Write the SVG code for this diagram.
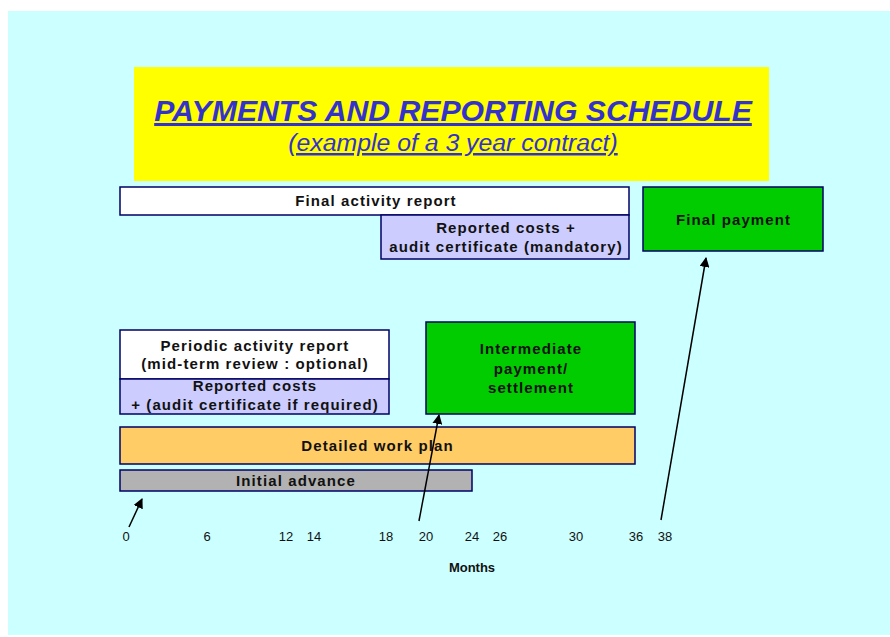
<svg xmlns="http://www.w3.org/2000/svg" width="890" height="637" viewBox="0 0 890 637">
<defs>
<marker id="ah" markerWidth="10" markerHeight="10" refX="9" refY="5" orient="auto" markerUnits="userSpaceOnUse">
<path d="M0,0 L10,5 L0,10 z" fill="#000"/>
</marker>
<style>
.box{stroke:#000066;stroke-width:1.5}
.lbl{font-family:"Liberation Sans",Arial,sans-serif;font-weight:bold;font-size:15px;letter-spacing:1.1px;fill:#111;text-anchor:middle}
.ax{font-family:"Liberation Sans",Arial,sans-serif;font-size:13px;fill:#111;text-anchor:middle}
.conn{stroke:#000;stroke-width:1.5;fill:none}
</style>
</defs>
<rect x="0" y="0" width="890" height="637" fill="#ffffff"/>
<rect x="8" y="11" width="882" height="624" fill="#CCFFFF"/>
<g id="title">
<rect x="134" y="67" width="635" height="114" fill="#FFFF00"/>
<text x="453" y="121" font-family="'Liberation Sans',Arial,sans-serif" font-weight="bold" font-style="italic" font-size="30.2" fill="#3333CC" text-anchor="middle" text-decoration="underline">PAYMENTS AND REPORTING SCHEDULE</text>
<text x="453" y="151" font-family="'Liberation Sans',Arial,sans-serif" font-style="italic" font-size="24.8" fill="#3333CC" text-anchor="middle" text-decoration="underline">(example of a 3 year contract)</text>
</g>
<g id="final-activity-report">
<rect class="box" x="120" y="187" width="509" height="28" fill="#ffffff"/>
<text class="lbl" x="376" y="206">Final activity report</text>
</g>
<g id="reported-costs-mandatory">
<rect class="box" x="381" y="215" width="248" height="44" fill="#CCCCFF"/>
<text class="lbl" x="506" y="233">Reported costs +</text>
<text class="lbl" x="506" y="252">audit certificate (mandatory)</text>
</g>
<g id="final-payment">
<rect class="box" x="643" y="187" width="180" height="64" fill="#00CC00"/>
<text class="lbl" x="733.5" y="225">Final payment</text>
</g>
<g id="periodic-activity-report">
<rect class="box" x="120" y="330" width="269" height="49" fill="#ffffff"/>
<text class="lbl" x="255" y="351">Periodic activity report</text>
<text class="lbl" x="255" y="369">(mid-term review : optional)</text>
</g>
<g id="reported-costs-optional">
<rect class="box" x="120" y="379" width="269" height="35" fill="#CCCCFF"/>
<text class="lbl" x="255" y="391">Reported costs</text>
<text class="lbl" x="255" y="410">+ (audit certificate if required)</text>
</g>
<g id="intermediate-payment">
<rect class="box" x="426" y="322" width="209" height="92" fill="#00CC00"/>
<text class="lbl" x="531" y="354">Intermediate</text>
<text class="lbl" x="531" y="374">payment/</text>
<text class="lbl" x="531" y="393">settlement</text>
</g>
<g id="detailed-work-plan">
<rect class="box" x="120" y="427" width="515" height="37" fill="#FFCC66"/>
<text class="lbl" x="377.5" y="451">Detailed work plan</text>
</g>
<g id="initial-advance">
<rect class="box" x="120" y="470" width="352" height="21" fill="#B2B2B2"/>
<text class="lbl" x="296" y="486">Initial advance</text>
</g>
<g id="connectors">
<line class="conn" x1="129" y1="527" x2="142" y2="499" marker-end="url(#ah)"/>
<line class="conn" x1="419" y1="521" x2="439" y2="415" marker-end="url(#ah)"/>
<line class="conn" x1="661" y1="520" x2="706" y2="258" marker-end="url(#ah)"/>
</g>
<g id="axis">
<text class="ax" x="126" y="541">0</text>
<text class="ax" x="207" y="541">6</text>
<text class="ax" x="286" y="541">12</text>
<text class="ax" x="314" y="541">14</text>
<text class="ax" x="386" y="541">18</text>
<text class="ax" x="426" y="541">20</text>
<text class="ax" x="472" y="541">24</text>
<text class="ax" x="500" y="541">26</text>
<text class="ax" x="576" y="541">30</text>
<text class="ax" x="636" y="541">36</text>
<text class="ax" x="665" y="541">38</text>
<text class="ax" x="472" y="572" font-weight="bold">Months</text>
</g>
</svg>
